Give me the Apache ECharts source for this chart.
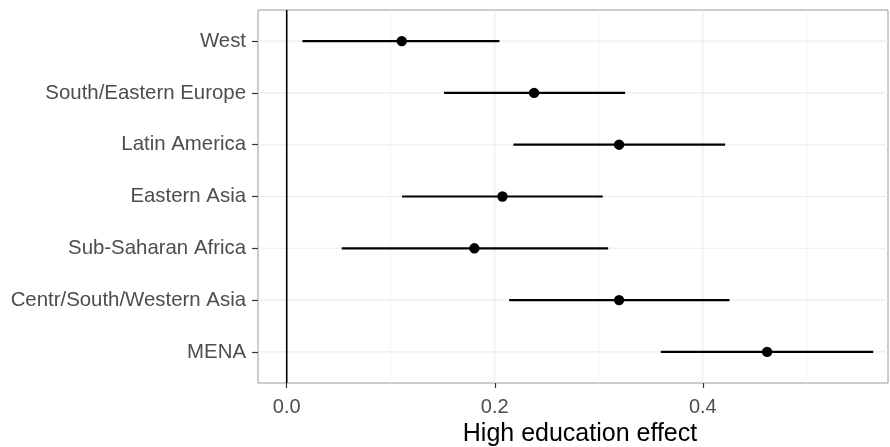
<!DOCTYPE html>
<html>
<head>
<meta charset="utf-8">
<script src="https://cdn.jsdelivr.net/npm/echarts@6/dist/echarts.min.js"></script>
<style>html,body{margin:0;padding:0;background:#fff}#c{width:890px;height:447px}</style>
</head>
<body>
<div id="c"></div>
<script>
const categories = ["West","South/Eastern Europe","Latin America","Eastern Asia","Sub-Saharan Africa","Centr/South/Western Asia","MENA"];
const estimates = [0.1106, 0.2378, 0.3195, 0.2074, 0.1804, 0.3195, 0.4618];
const lower     = [0.0151, 0.1513, 0.2179, 0.1109, 0.0529, 0.2138, 0.3596];
const upper     = [0.2045, 0.3253, 0.4214, 0.3038, 0.3090, 0.4256, 0.5638];
const xTicks = [0, 0.2, 0.4];
const xMinorGrid = [0.1, 0.3, 0.5];
const xTitle = "High education effect";

const idx = categories.map((_, i) => i);
const barData = categories.map((c, i) => [i, lower[i], estimates[i], upper[i]]);

// [orientation (0 = vertical at x value, 1 = horizontal at y value), value, kind (0 minor, 1 major, 2 zero)]
const gridData = [];
xMinorGrid.forEach(v => gridData.push([0, v, 0]));
xTicks.forEach(v => gridData.push([0, v, 1]));
idx.forEach(v => gridData.push([1, v, 1]));
gridData.push([0, 0, 2]);

const gridStyles = [
  {stroke: '#F2F2F2', lineWidth: 0.7},
  {stroke: '#EBEBEB', lineWidth: 1.1},
  {stroke: '#000000', lineWidth: 1.6}
];

const chart = echarts.init(document.getElementById('c'), null, {renderer: 'canvas'});
chart.setOption({
  animation: false,
  backgroundColor: '#fff',
  grid: {left: 258, right: 2, top: 10, bottom: 64, outerBoundsMode: 'none', containLabel: false,
    show: true, borderColor: '#9a9a9a', borderWidth: 1, backgroundColor: 'transparent'},
  xAxis: {
    type: 'value', min: -0.0276, max: 0.578, position: 'bottom',
    name: xTitle, nameLocation: 'middle', nameGap: 38,
    nameTextStyle: {fontFamily: 'Liberation Sans', fontSize: 25, color: '#000', padding: [0, 0, 0, 14]},
    axisLine: {show: false, onZero: false},
    axisTick: {show: true, length: 5, customValues: xTicks, lineStyle: {color: '#333', width: 1.2}},
    axisLabel: {customValues: xTicks, margin: 14, fontFamily: 'Liberation Sans', fontSize: 20, color: '#4D4D4D',
      formatter: v => v.toFixed(1)},
    splitLine: {show: false}
  },
  yAxis: {
    type: 'value', min: -0.6, max: 6.6, inverse: true, position: 'left',
    axisLine: {show: false, onZero: false},
    axisTick: {show: true, length: 6, customValues: idx, lineStyle: {color: '#333', width: 1.2}},
    axisLabel: {customValues: idx, margin: 12, fontFamily: 'Liberation Sans', fontSize: 20.4, color: '#4D4D4D',
      formatter: v => categories[Math.round(v)]},
    splitLine: {show: false}
  },
  series: [
    {
      type: 'custom', z: 1, silent: true,
      data: gridData,
      encode: {x: 1, y: 1},
      clip: true,
      renderItem: function (params, api) {
        const cs = params.coordSys;
        const o = api.value(0), v = api.value(1), k = api.value(2);
        let shape;
        if (o === 0) {
          const x = api.coord([v, 0])[0];
          shape = {x1: x, y1: cs.y, x2: x, y2: cs.y + cs.height};
        } else {
          const y = api.coord([0, v])[1];
          shape = {x1: cs.x, y1: y, x2: cs.x + cs.width, y2: y};
        }
        return {type: 'line', shape: shape, style: gridStyles[k], z2: k};
      }
    },
    {
      type: 'custom', z: 10,
      data: barData,
      encode: {x: [1, 2, 3], y: 0},
      renderItem: function (params, api) {
        const y = api.value(0);
        const p1 = api.coord([api.value(1), y]);
        const pc = api.coord([api.value(2), y]);
        const p2 = api.coord([api.value(3), y]);
        return {type: 'group', children: [
          {type: 'line', shape: {x1: p1[0], y1: p1[1], x2: p2[0], y2: p2[1]}, style: {stroke: '#000', lineWidth: 2.2}},
          {type: 'circle', shape: {cx: pc[0], cy: pc[1], r: 5.2}, style: {fill: '#000'}}
        ]};
      }
    }
  ]
});
</script>
</body>
</html>
